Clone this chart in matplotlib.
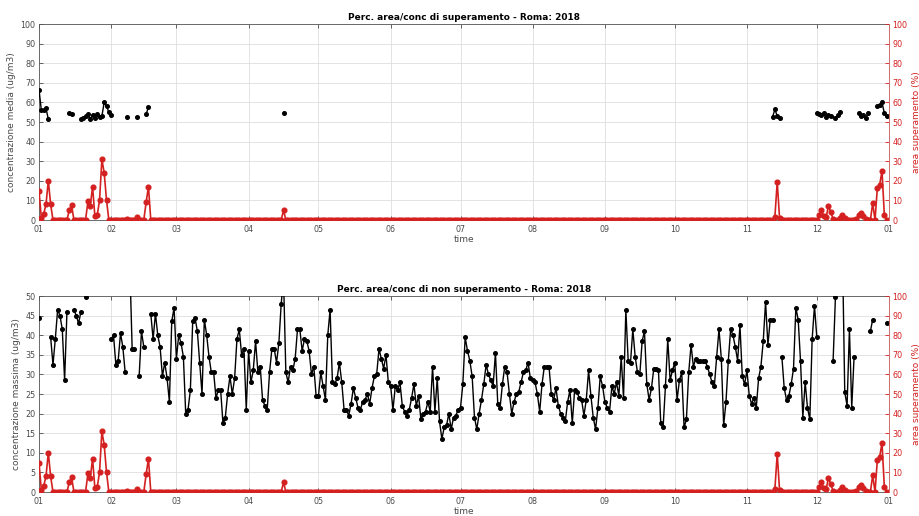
import numpy as np
import pandas as pd
import matplotlib
matplotlib.use("Agg")
import matplotlib.pyplot as plt

nan = np.nan

# --- mean concentration over the exceeding area (ug/m3), one value per day ---
conc_media_jan = [66.5, 56, 56, 57, 51.5, nan, nan, nan, nan, nan, nan, nan, nan, 54.5, 54,
                  nan, nan, nan, 51.5, 52, 53, 54, 51.5, 53.5, 52, 54, 52.5, 53, 60, 58, 55]
conc_media_feb = [53.5, nan, nan, nan, nan, nan, nan, 52.5, nan, nan, nan, 52.5, nan, nan,
                  nan, 54, 57.5, nan, nan, nan, nan, nan, nan, nan, nan, nan, nan, nan]
conc_media_mar = [nan] * 31
conc_media_apr = [nan] * 15 + [54.5] + [nan] * 14
conc_media_may = [nan] * 31
conc_media_jun = [nan] * 30
conc_media_jul = [nan] * 31
conc_media_aug = [nan] * 31
conc_media_sep = [nan] * 30
conc_media_oct = [nan] * 31
conc_media_nov = [nan] * 11 + [52.5, 56.5, 53, 52] + [nan] * 15
conc_media_dec = [54.5, 54, 53.5, 54.5, 52.5, 53.5, 53, nan, 52, 53.5, 55,
                  nan, nan, nan, nan, nan, nan, nan, 54.5, 53, 53.5, 52, 54.5,
                  nan, nan, nan, 58, 58.5, 60, 54.5, 53]

# --- max concentration over the non-exceeding area (ug/m3) ---
conc_max_jan = [44.5, nan, nan, nan, nan, 39.5, 32.5, 39, 46.5, 45, 41.5, 28.5, 46, nan, nan,
                46.5, 45, 43, 46, nan, 49.8, nan, nan, nan, nan, nan, nan, nan, nan, nan, nan]
conc_max_feb = [39, 40, 32.5, 33.5, 40.5, 37, 30.5, nan, 58, 36.5, 36.5, nan, 29.5, 41, 37,
                nan, nan, 45.5, 39, 45.5, 40, 37, 29.5, 33, 29, 23, 43.5, 47]
conc_max_mar = [34, 40, 38, 34.5, 20, 21, 26, 43.5, 44.5, 41, 33, 25, 44, 40, 34.5, 30.5,
                30.5, 24, 26, 26, 17.5, 19, 25, 29.5, 25, 29, 39, 41.5, 35, 36.5, 21]
conc_max_apr = [36, 28, 31, 38.5, 30.5, 32, 23.5, 22, 21, 30.5, 36.5, 36.5, 33, 38, 48,
                54.5, 30.5, 28, 32, 31, 34, 41.5, 41.5, 36, 39, 38.5, 36, 30, 32, 24.5]
conc_max_may = [24.5, 30.5, 27, 23.5, 40, 46.5, 28, 27.5, 29, 33, 28, 21, 21, 19.5, 22.5,
                26.5, 24, 21.5, 21, 23, 23.5, 25, 22.5, 26.5, 29.5, 30, 36.5, 34, 31.5, 35, 28]
conc_max_jun = [27, 21, 27, 26, 28, 22, 20.5, 19.5, 21, 24, 27.5, 22, 24.5, 18.5, 20,
                20.5, 23, 20.5, 32, 20.5, 29, 18, 13.5, 16.5, 17, 20, 16, 19, 19.5, 21]
conc_max_jul = [21.5, 27.5, 39.5, 36, 33.5, 29.5, 19, 16, 20, 23.5, 27.5, 32.5, 30, 28.5, 27,
                35.5, 22.5, 21.5, 27.5, 32, 30.5, 25, 20, 23, 25, 25.5, 28, 30.5, 31, 33, 29]
conc_max_aug = [28.5, 28, 25, 20.5, 27.5, 32, 32, 32, 25, 23.5, 26.5, 22, 20, 19, 18, 23,
                26, 17.5, 26, 25.5, 24, 23.5, 19.5, 23.5, 31, 24.5, 19, 16, 21.5, 29.5, 27]
conc_max_sep = [23, 21.5, 20.5, 27, 25, 28, 24.5, 34.5, 24, 46.5, 33.5, 33, 41.5, 34.5, 30.5,
                30, 38.5, 41, 27.5, 23.5, 26.5, 31.5, 31.5, 31, 17.5, 16.5, 27, 39, 28.5, 31]
conc_max_oct = [33, 23.5, 28.5, 30.5, 16.5, 18.5, 30.5, 37.5, 32, 34, 33.5, 33.5, 33.5, 33.5,
                32, 30, 28, 27, 34.5, 41.5, 34, 17, 23, 33.5, 41.5, 40, 37, 33.5, 42.5, 29.5, 27.5]
conc_max_nov = [31, 24.5, 22.5, 24, 21.5, 29, 32, 38.5, 48.5, 37.5, 44, 44, nan, nan, nan,
                34.5, 26.5, 23.5, 24.5, 27.5, 31.5, 47, 44, 33.5, 19, 28, 21.5, 18.5, 39, 47.5]
conc_max_dec = [39.5, nan, nan, nan, nan, nan, nan, 33.5, 49.7, nan, nan, 62, 25.5, 22, 41.5,
                21.5, 34.5, nan, nan, nan, nan, nan, nan, 41, 44, nan, nan, nan, nan, nan, 43]

# --- share of the area above the limit (%) ---
area_jan = [15, 1, 3, 8, 20, 8, 0, 0, 0, 0, 0, 0, 0, 5, 7.5, 0, 0, 0, 0, 0, 0,
            9.5, 7, 17, 2, 2.5, 10, 31, 24, 10, 0]
area_feb = [0, 0, 0, 0, 0, 0, 0, 0.5, 0, 0, 0, 1.5, 0, 0, 0, 9, 17,
            0, 0, 0, 0, 0, 0, 0, 0, 0, 0, 0]
area_mar = [0] * 31
area_apr = [0] * 15 + [5] + [0] * 14
area_may = [0] * 31
area_jun = [0] * 30
area_jul = [0] * 31
area_aug = [0] * 31
area_sep = [0] * 30
area_oct = [0] * 31
area_nov = [0] * 12 + [1.5, 19.5, 1] + [0] * 15
area_dec = [0, 2.5, 5, 2, 1.5, 7, 4, 0.5, 0, 0, 1, 2.5, 1, 0, 0, 0, 0,
            0.5, 2.5, 3.5, 2, 0.5, 0, 0, 8.5, 0, 16.5, 18, 25, 2.5, 0]

month_labels = ["01", "02", "03", "04", "05", "06", "07", "08", "09", "10", "11", "12", "01"]
titles = ["Perc. area/conc di superamento - Roma: 2018",
          "Perc. area/conc di non superamento - Roma: 2018"]
left_labels = ["concentrazione media (ug/m3)", "concentrazione massima (ug/m3)"]
right_label = "area superamento (%)"
x_label = "time"

conc_media = np.concatenate([conc_media_jan, conc_media_feb, conc_media_mar, conc_media_apr,
                             conc_media_may, conc_media_jun, conc_media_jul, conc_media_aug,
                             conc_media_sep, conc_media_oct, conc_media_nov, conc_media_dec])
conc_max = np.concatenate([conc_max_jan, conc_max_feb, conc_max_mar, conc_max_apr,
                           conc_max_may, conc_max_jun, conc_max_jul, conc_max_aug,
                           conc_max_sep, conc_max_oct, conc_max_nov, conc_max_dec])
area = np.concatenate([area_jan, area_feb, area_mar, area_apr, area_may, area_jun,
                       area_jul, area_aug, area_sep, area_oct, area_nov, area_dec])

days = pd.date_range("2018-01-01", "2018-12-31", freq="D")
month_starts = pd.date_range("2018-01-01", "2019-01-01", freq="MS")

RED = "#d42020"
TXT = "#4a4a4a"

plt.rcParams["font.family"] = ["DejaVu Sans"]

fig = plt.figure(figsize=(9.19, 5.16), dpi=100)
ax_top = fig.add_axes([39 / 919, 1 - 220 / 516, 850 / 919, 196 / 516])
ax_bot = fig.add_axes([39 / 919, 1 - 492 / 516, 850 / 919, 196 / 516])


def style_panel(ax, conc, ymax, ystep, ylabel, title):
    ax.plot(days, conc, color="black", lw=1.0, marker="o", ms=2.6, zorder=3)
    ax.set_xlim(month_starts[0], month_starts[-1])
    ax.set_ylim(0, ymax)
    ax.set_yticks(np.arange(0, ymax + ystep / 2, ystep))
    ax.set_xticks(month_starts)
    ax.set_xticklabels(month_labels)
    ax.grid(True, color="#dedede", lw=0.6)
    ax.set_axisbelow(True)
    ax.tick_params(axis="both", direction="in", length=3, width=0.6, labelsize=5.8,
                   colors=TXT, top=True)
    ax.tick_params(axis="x", pad=3.5)
    ax.tick_params(axis="y", pad=2.5)
    for s in ax.spines.values():
        s.set_color("#555555")
        s.set_linewidth(0.6)
    ax.set_ylabel(ylabel, fontsize=6.5, color=TXT, labelpad=3)
    ax.set_xlabel(x_label, fontsize=6.5, color=TXT, labelpad=1)
    ax.set_title(title, fontsize=6.5, fontweight="bold", pad=3)

    ax2 = ax.twinx()
    ax2.plot(days, area, color=RED, lw=1.2, marker="o", ms=3.4, zorder=2)
    ax2.set_xlim(month_starts[0], month_starts[-1])
    ax2.set_ylim(0, 100)
    ax2.set_yticks(np.arange(0, 101, 10))
    ax2.tick_params(axis="y", direction="in", length=3, width=0.6, labelsize=5.8,
                    colors=RED, pad=2.5)
    ax2.spines["right"].set_color("#e07070")
    ax2.spines["right"].set_linewidth(0.6)
    for k in ("left", "top", "bottom"):
        ax2.spines[k].set_visible(False)
    ax2.set_ylabel(right_label, fontsize=6.5, color=RED, labelpad=3)


style_panel(ax_top, conc_media, 100, 10, left_labels[0], titles[0])
style_panel(ax_bot, conc_max, 50, 5, left_labels[1], titles[1])

fig.savefig("out.png", dpi=100)
